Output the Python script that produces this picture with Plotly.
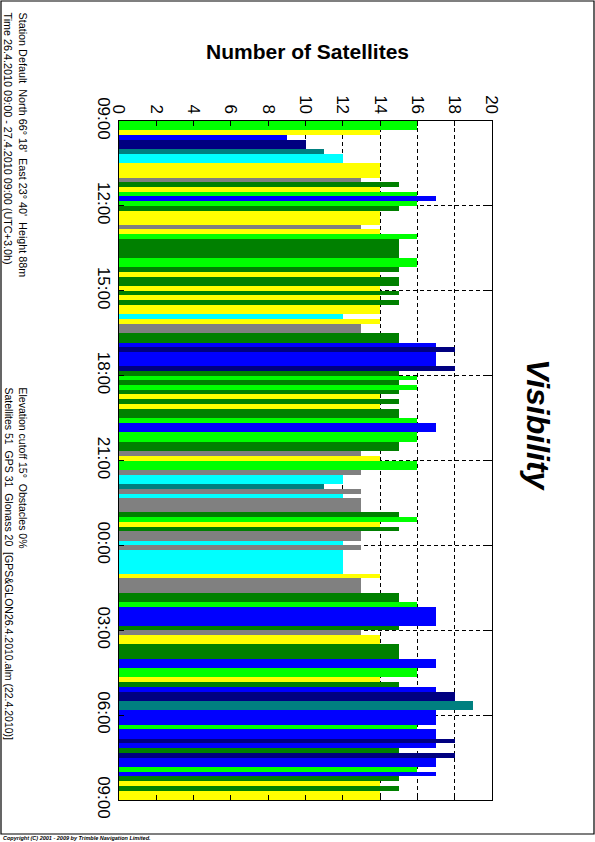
import plotly.graph_objects as go

# ---- data ----
counts = [16, 16, 14, 9, 10, 10, 11, 12, 12, 14, 14, 14, 13, 15, 14, 16, 17, 16,
          15, 14, 14, 14, 13, 14, 16, 15, 15, 15, 15, 16, 16, 15, 14, 15, 15, 14,
          15, 14, 15, 14, 14, 12, 14, 13, 13, 15, 15, 17, 18, 17, 17, 17, 18, 15,
          16, 15, 16, 15, 14, 15, 14, 15, 15, 16, 17, 17, 16, 16, 15, 15, 13, 14,
          16, 16, 13, 12, 12, 11, 13, 12, 13, 13, 13, 15, 16, 14, 15, 13, 13, 12,
          13, 12, 12, 12, 12, 12, 14, 13, 13, 13, 15, 15, 16, 17, 17, 17, 17, 15,
          13, 14, 14, 15, 15, 15, 17, 17, 16, 16, 14, 15, 17, 18, 18, 19, 19, 17,
          17, 17, 16, 17, 17, 18, 17, 15, 18, 17, 17, 16, 17, 15, 14, 15, 14, 14]
slot_minutes = 10
time_tick_hours = [0, 3, 6, 9, 12, 15, 18, 21, 24]
time_tick_labels = ["09:00", "12:00", "15:00", "18:00", "21:00", "00:00", "03:00", "06:00", "09:00"]
count_ticks = [0, 2, 4, 6, 8, 10, 12, 14, 16, 18, 20]

# colour cycle by satellite count (mod 8)
palette = {0: "#00FFFF", 1: "#808080", 2: "#FFFF00", 3: "#008000",
           4: "#00FF00", 5: "#0000FF", 6: "#000080", 7: "#008080"}
colors = [palette[(c - 12) % 8] for c in counts]

slot_h = slot_minutes / 60.0
y_mid = [i * slot_h + slot_h / 2 for i in range(len(counts))]

W, H = 595, 842
def px(x):
    return x / W
def py(y):
    return 1 - y / H

fig = go.Figure()
fig.add_trace(go.Bar(
    orientation="h", x=counts, y=y_mid, width=[slot_h] * len(counts),
    marker=dict(color=colors, line=dict(width=0)),
    hoverinfo="skip", showlegend=False,
))

FONT = "Liberation Sans, Arial, sans-serif"

fig.update_layout(
    width=W, height=H,
    margin=dict(l=0, r=0, t=0, b=0),
    paper_bgcolor="white", plot_bgcolor="white",
    bargap=0,
    font=dict(family=FONT, color="black"),
    xaxis=dict(
        domain=[px(119), px(492)], range=[0, 20], side="top",
        tickvals=count_ticks, ticktext=[str(v) for v in count_ticks],
        tickangle=90, tickfont=dict(size=17, family=FONT, color="black"),
        ticks="inside", ticklen=5, tickcolor="black",
        showline=True, linecolor="black", linewidth=1, mirror="ticks",
        showgrid=True, gridcolor="black", griddash="4px,3px", gridwidth=1,
        zeroline=False, automargin=False,
    ),
    yaxis=dict(
        domain=[py(800), py(121)], range=[24, 0],
        tickvals=time_tick_hours, ticktext=time_tick_labels,
        tickangle=90, tickfont=dict(size=17, family=FONT, color="black"),
        ticks="inside", ticklen=5, tickcolor="black",
        showline=True, linecolor="black", linewidth=1, mirror="ticks",
        showgrid=True, gridcolor="black", griddash="4px,3px", gridwidth=1,
        zeroline=False, automargin=False,
    ),
)

# page border
fig.add_shape(type="rect", xref="paper", yref="paper",
              x0=px(1), x1=px(594), y0=py(834), y1=py(1),
              line=dict(color="black", width=1.2), fillcolor="rgba(0,0,0,0)")

ann = []
ann.append(dict(text="<b>Number of Satellites</b>", x=px(307), y=py(52),
                xanchor="center", yanchor="middle", font=dict(size=21)))
ann.append(dict(text="<b><i>Visibility</i></b>", x=px(538), y=py(425),
                xanchor="center", yanchor="middle", textangle=90, font=dict(size=32)))
ann.append(dict(text="Station Default&nbsp; North 66° 18'&nbsp; East 23° 40'&nbsp; Height 88m<br>"
                     "Time 26.4.2010 09:00 - 27.4.2010 09:00 (UTC+3.0h)",
                x=px(1), y=py(10), xanchor="left", yanchor="top", align="left",
                textangle=90, font=dict(size=10.8)))
ann.append(dict(text="Elevation cutoff 15°&nbsp; Obstacles 0%<br>"
                     "Satellites 51&nbsp; GPS 31&nbsp; Glonass 20&nbsp; [GPS&amp;GLON26.4.2010.alm (22.4.2010)]",
                x=px(1), y=py(385), xanchor="left", yanchor="top", align="left",
                textangle=90, font=dict(size=10.5)))
ann.append(dict(text="<b><i>Copyright (C) 2001 - 2009 by Trimble Navigation Limited.</i></b>",
                x=px(1), y=py(838), xanchor="left", yanchor="middle", font=dict(size=5.5)))
for a in ann:
    a.update(xref="paper", yref="paper", showarrow=False)
    a.setdefault("font", {})
    a["font"].update(family=FONT, color="black")
fig.update_layout(annotations=ann)

fig.write_html("out.html",
               config={"displayModeBar": False, "staticPlot": True},
               post_script="document.body.style.margin='0';document.body.style.overflow='hidden';")
